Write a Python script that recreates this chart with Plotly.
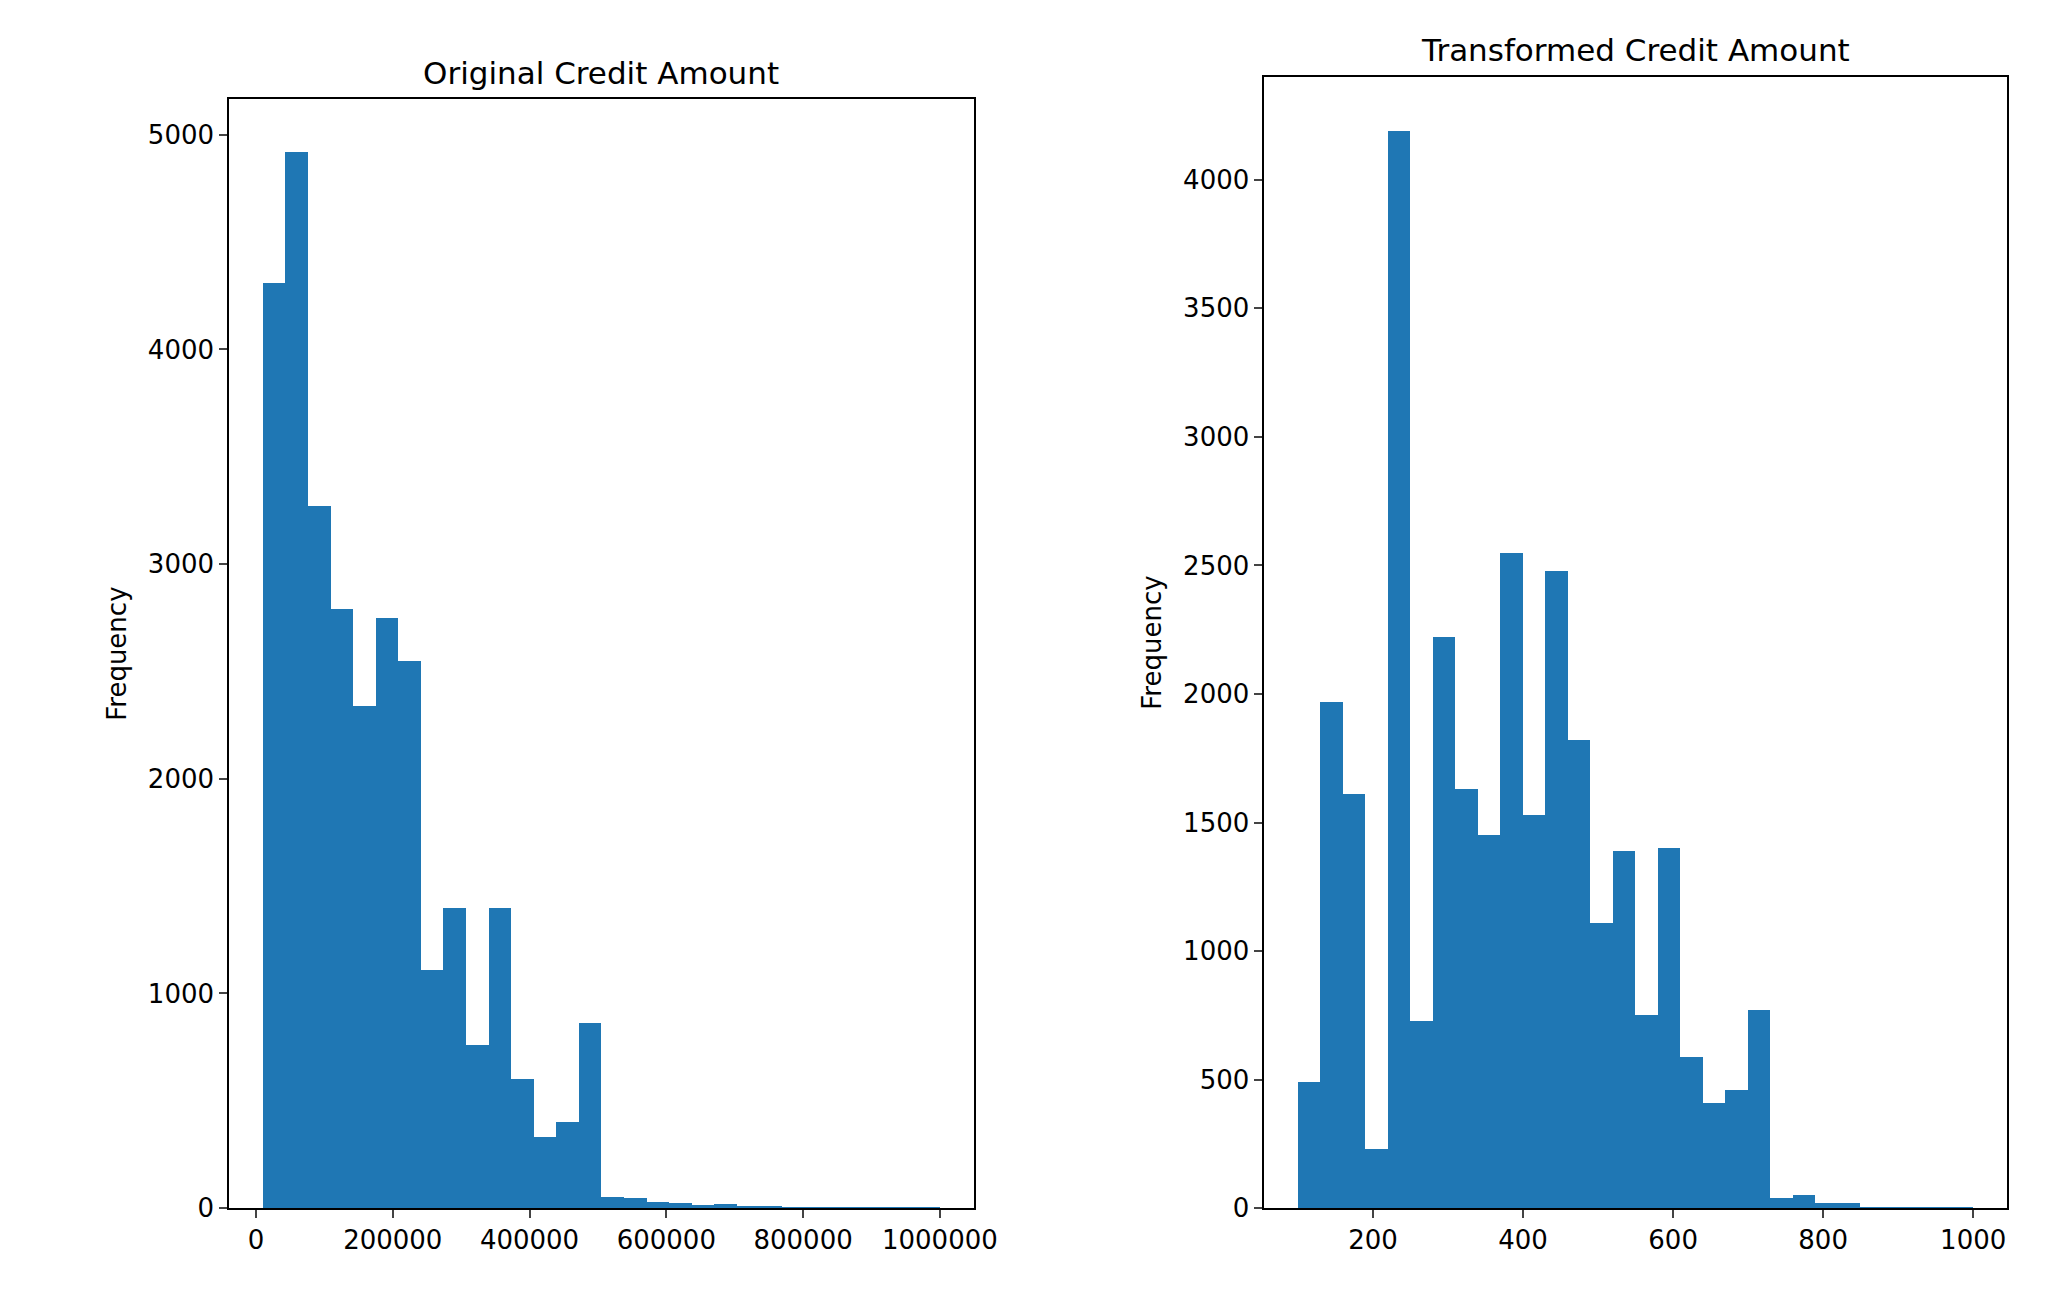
import plotly.graph_objects as go
from plotly.subplots import make_subplots

# original credit amount histogram: 30 bins from 10000 to 1000000
orig_start = 10000
orig_width = 33000
orig_counts = [4310, 4920, 3270, 2790, 2340, 2750, 2550, 1110, 1400, 760,
               1400, 600, 330, 400, 860, 50, 45, 30, 25, 15,
               20, 10, 8, 5, 3, 2, 2, 1, 1, 1]

# transformed credit amount histogram: 30 bins from 100 to 1000
trans_start = 100
trans_width = 30
trans_counts = [490, 1970, 1610, 230, 4190, 730, 2220, 1630, 1450, 2550,
                1530, 2480, 1820, 1110, 1390, 750, 1400, 590, 410, 460,
                770, 40, 50, 20, 20, 5, 3, 2, 1, 1]

orig_x = [orig_start + orig_width * (i + 0.5) for i in range(len(orig_counts))]
trans_x = [trans_start + trans_width * (i + 0.5) for i in range(len(trans_counts))]

blue = "#1f77b4"
fig = make_subplots(rows=1, cols=2)
fig.add_trace(go.Bar(x=orig_x, y=orig_counts, width=orig_width, marker=dict(color=blue, line=dict(width=0))), 1, 1)
fig.add_trace(go.Bar(x=trans_x, y=trans_counts, width=trans_width, marker=dict(color=blue, line=dict(width=0))), 1, 2)

axis_style = dict(showline=True, linecolor="black", linewidth=1.5, mirror=True, ticks="outside",
                  ticklen=8, tickwidth=1.5, showgrid=False, zeroline=False,
                  tickfont=dict(size=26, color="black"))

fig.update_layout(
    width=2070, height=1316, margin=dict(l=0, r=0, t=0, b=0),
    plot_bgcolor="white", paper_bgcolor="white", showlegend=False, bargap=0,
    font=dict(family="DejaVu Sans", color="black"),
    xaxis=dict(domain=[0.108, 0.472], range=[-39500, 1049500], tickvals=[0, 200000, 400000, 600000, 800000, 1000000],
               tickformat="d", **axis_style),
    yaxis=dict(domain=[0.0775, 0.93], range=[0, 5166], dtick=1000,
               title=dict(text="Frequency", font=dict(size=26), standoff=14), **axis_style),
    xaxis2=dict(domain=[0.614, 0.977], range=[55, 1045], tickvals=[200, 400, 600, 800, 1000], **axis_style),
    yaxis2=dict(domain=[0.0775, 0.93], range=[0, 4400], dtick=500,
                title=dict(text="Frequency", font=dict(size=26), standoff=14), **axis_style),
    annotations=[
        dict(text="Original Credit Amount", x=0.29, y=0.935, xref="paper", yref="paper",
             xanchor="center", yanchor="bottom", showarrow=False, font=dict(size=31)),
        dict(text="Transformed Credit Amount", x=0.7955, y=0.952, xref="paper", yref="paper",
             xanchor="center", yanchor="bottom", showarrow=False, font=dict(size=31)),
    ],
)
fig.update_yaxes(domain=[0.0775, 0.947], row=1, col=2)

fig.write_html("out.html")
